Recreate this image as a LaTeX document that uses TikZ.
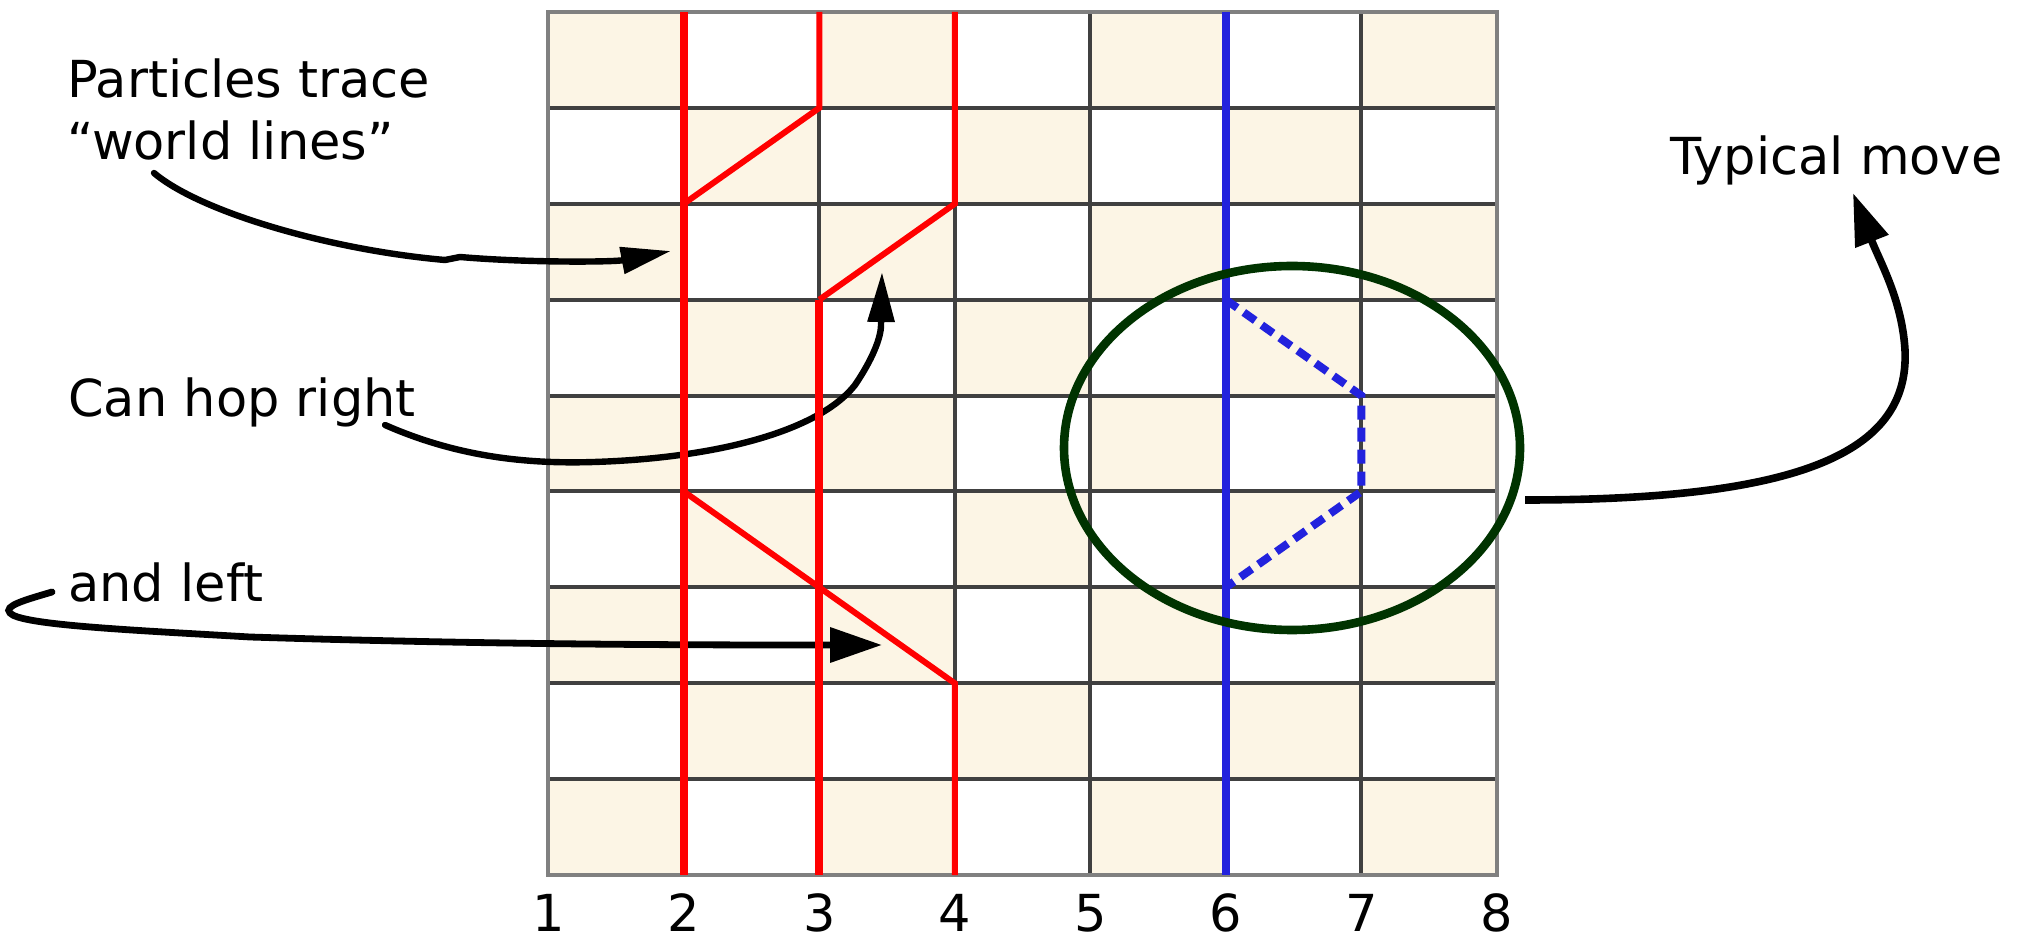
\documentclass[tikz,border=0pt]{standalone}
\usepackage{fontspec}
\setmainfont{DejaVu Sans}
\usetikzlibrary{arrows.meta,shapes.geometric}
\definecolor{cream}{RGB}{252,245,229}
\definecolor{gridgray}{RGB}{64,64,64}
\definecolor{bordergray}{RGB}{128,128,128}
\definecolor{wlred}{RGB}{255,0,0}
\definecolor{wlblue}{RGB}{34,34,221}
\definecolor{ringgreen}{RGB}{0,51,0}
\begin{document}
\begin{tikzpicture}[x=0.5pt,y=-0.5pt,
  gridline/.style={draw=gridgray,line width=2pt},
  borderline/.style={draw=bordergray,line width=2pt},
  wlthick/.style={draw=wlred,line width=4pt},
  wlthin/.style={draw=wlred,line width=3pt},
  bluewl/.style={draw=wlblue,line width=4pt},
  bluedash/.style={draw=wlblue,line width=4pt,dash pattern=on 7pt off 4pt},
  movering/.style={ellipse,draw=ringgreen,line width=4.3pt,minimum width=228pt,minimum height=182pt,inner sep=0pt},
  lbl/.style={inner sep=0pt,font=\fontsize{25.5pt}{31pt}\selectfont},
  arrowthin/.style={draw=black,line width=3.2pt,line cap=round,-{Triangle[length=25pt,width=13pt]}},
  arrowwide/.style={draw=black,line width=3.4pt,line cap=round,-{Triangle[length=26pt,width=17pt]}}
]
\useasboundingbox (0,0) rectangle (2025,940);
% grid coordinates
\foreach \i in {1,...,8}
  \foreach \j in {0,...,9}
    \coordinate (g\i-\j) at ({548.3+(\i-1)*135.5},{12+\j*95.9});
% checkerboard cells
\foreach \i in {1,...,7}
  \foreach \j in {1,...,9} {
    \pgfmathtruncatemacro\cellpar{mod(\i+\j,2)}
    \ifnum\cellpar=0
      \fill[cream] ({548.3+(\i-1)*135.5},{12+(\j-1)*95.9}) rectangle ++(135.5,95.9);
    \fi
  }
% grid lines
\foreach \i in {2,...,7} \draw[gridline] (g\i-0) -- (g\i-9);
\foreach \j in {1,...,8} \draw[gridline] (g1-\j) -- (g8-\j);
\draw[borderline] (g1-0) rectangle (g8-9);
% column numbers
\foreach \i in {1,...,8}
  \node[lbl,anchor=base] (num\i) at ({548.3+(\i-1)*135.5},931) {\i};
% labels
\node[lbl,anchor=base west,align=left] (wltext) at (67,160) {Particles trace\\“world lines”};
\node[lbl,anchor=base west] (hoptext) at (68,417) {Can hop right};
\node[lbl,anchor=base west] (lefttext) at (68,602) {and left};
\node[lbl,anchor=base west] (typtext) at (1670,175) {Typical move};
% arrows
\coordinate (wlS) at (154,173); \coordinate (wlE) at (671,251);
\draw[arrowthin] (wlS) .. controls (200,212) and (330,250) .. (445,260) -- (460,257) .. controls (530,263) and (614,262) .. (wlE);
\coordinate (hopS) at (385,425); \coordinate (hopE) at (882,272);
\draw[arrowthin] (hopS) .. controls (460,458) and (530,464) .. (594,462) .. controls (720,458) and (820,430) .. (855,385) .. controls (872,360) and (881,338) .. (881,325) -- (hopE);
\coordinate (lfS) at (52,592); \coordinate (lfE) at (882,645);
\draw[arrowwide] (lfS) .. controls (25,600) and (3,606) .. (10,613) .. controls (20,625) and (130,630) .. (250,637) .. controls (500,645) and (700,645) .. (lfE);
\coordinate (tmS) at (1525,500); \coordinate (tmE) at (1853,193);
\draw[arrowwide,line width=3.8pt,line cap=butt] (tmS) .. controls (1795,500) and (1910,455) .. (1905,350) .. controls (1902,300) and (1880,262) .. (tmE);
% world lines
\draw[wlthick] (g2-0) -- (g2-9);
\draw[wlthick] (g3-3) -- (g3-9);
\draw[wlthin] (g3-0) -- (g3-1) -- (g2-2);
\draw[wlthin] (g4-0) -- (g4-2) -- (g3-3);
\draw[wlthin] (g2-5) -- (g3-6) -- (g4-7) -- (g4-9);
\draw[bluewl] (g6-0) -- (g6-9);
\draw[bluedash] (g6-3) -- (g7-4) -- (g7-5) -- (g6-6);
% typical move ring
\node[movering] (move) at (1292,448) {};
\end{tikzpicture}
\end{document}
